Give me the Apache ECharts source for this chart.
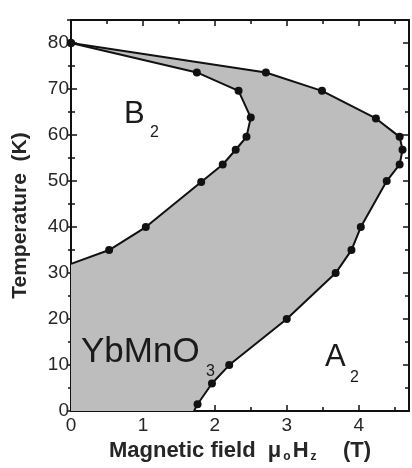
<!DOCTYPE html>
<html>
<head>
<meta charset="utf-8">
<script src="https://cdn.jsdelivr.net/npm/echarts@6/dist/echarts.min.js"></script>
<style>
  html, body { margin: 0; padding: 0; background: #fff; }
  #chart { width: 412px; height: 468px; }
</style>
</head>
<body>
<div id="chart"></div>
<script>
// Phase boundary of YbMnO3: measured transition points (field in T, temperature in K)
// Upper/right boundary (A2 side), from low temperature upward to the zero-field point
const outerField = [1.76, 1.96, 2.20, 3.00, 3.68, 3.90, 4.03, 4.39, 4.57, 4.61, 4.57, 4.24, 3.49, 2.71, 0.00];
const outerTemp  = [1.5,  6.0,  10.0, 20.0, 30.0, 35.0, 40.0, 50.0, 53.6, 56.8, 59.6, 63.6, 69.6, 73.6, 80.0];
// Inner boundary (B2 side), from the zero-field point downward
const innerField = [1.75, 2.33, 2.50, 2.44, 2.29, 2.11, 1.81, 1.04, 0.53];
const innerTemp  = [73.6, 69.6, 63.8, 59.6, 56.8, 53.6, 49.8, 40.0, 35.0];
// Where the boundaries meet the axes (no measured point there)
const outerAxisEnd = [1.71, 0];
const innerAxisEnd = [0, 32];

const xTicks = [0, 1, 2, 3, 4];
const yTicks = [0, 10, 20, 30, 40, 50, 60, 70, 80];

const FONT = 'Liberation Sans';
const INK = '#111';
const TXT = '#262626';

const outerLine = [outerAxisEnd].concat(outerField.map((x, i) => [x, outerTemp[i]]));
const innerLine = [[outerField[outerField.length - 1], outerTemp[outerTemp.length - 1]]]
  .concat(innerField.map((x, i) => [x, innerTemp[i]]))
  .concat([innerAxisEnd]);

// Shaded ordered phase: origin -> outer boundary -> inner boundary -> back down the T axis
const regionPoly = [[0, 0]].concat(outerLine).concat(innerLine.slice(1));

const chart = echarts.init(document.getElementById('chart'), null, { renderer: 'canvas' });

function frameAxis(extra) {
  return Object.assign({
    type: 'value',
    axisLine: { show: true, onZero: false, lineStyle: { color: INK, width: 2 } },
    axisTick: { show: true, inside: true, length: 6, lineStyle: { color: INK, width: 1.5 } },
    minorTick: { show: true, splitNumber: 2, length: 4, lineStyle: { color: INK, width: 1.5 } },
    splitLine: { show: false },
    minorSplitLine: { show: false },
    axisLabel: { show: false }
  }, extra);
}

// phase labels with subscripts
function phaseText(x, y, text, size) {
  return {
    type: 'text', x: x, y: y, z: 10,
    style: { text: text, fontFamily: FONT, fontSize: size, fill: '#1a1a1a', align: 'left', verticalAlign: 'middle' }
  };
}

chart.setOption({
  animation: false,
  backgroundColor: '#fff',
  grid: { left: 71, right: 3, top: 20, bottom: 50 },
  xAxis: [
    frameAxis({
      min: 0, max: 4.7, interval: 1, position: 'bottom',
      name: 'Magnetic field  {mu|μ}{sub|o}{mu|H}{sub|z}    (T)',
      nameLocation: 'middle', nameGap: 26,
      nameTextStyle: {
        fontFamily: FONT, fontSize: 22, fontWeight: 'bold', color: TXT,
        rich: {
          mu: { fontFamily: FONT, fontSize: 22, fontWeight: 'bold', color: TXT },
          sub: { fontFamily: FONT, fontSize: 12, fontWeight: 'bold', color: TXT, verticalAlign: 'bottom', padding: [12, 2, 0, 2] }
        }
      },
      axisLabel: {
        show: true, margin: 5, fontFamily: FONT, fontSize: 19, color: TXT,
        showMaxLabel: false,
        formatter: v => (xTicks.indexOf(v) >= 0 ? String(v) : '')
      }
    }),
    frameAxis({ min: 0, max: 4.7, interval: 1, position: 'top' })
  ],
  yAxis: [
    frameAxis({
      min: 0, max: 85, interval: 10, position: 'left',
      name: 'Temperature  (K)', nameLocation: 'middle', nameGap: 40, nameRotate: 90,
      nameTextStyle: { fontFamily: FONT, fontSize: 21, fontWeight: 'bold', color: TXT },
      axisLabel: {
        show: true, margin: 2, fontFamily: FONT, fontSize: 19, color: TXT,
        showMaxLabel: false,
        formatter: v => (yTicks.indexOf(v) >= 0 ? String(v) : '')
      }
    }),
    frameAxis({ min: 0, max: 85, interval: 10, position: 'right' }),
    // outer half of the left-hand ticks, so they cross the axis line
    frameAxis({
      min: 0, max: 85, interval: 10, position: 'left',
      axisLine: { show: false },
      axisTick: { show: true, inside: false, length: 4, lineStyle: { color: INK, width: 1.5 } },
      minorTick: { show: true, splitNumber: 2, length: 3, lineStyle: { color: INK, width: 1.5 } }
    })
  ],
  series: [
    {
      type: 'custom',
      z: 1,
      data: [0],
      renderItem: function (params, api) {
        const pts = regionPoly.map(p => api.coord(p));
        return { type: 'polygon', shape: { points: pts }, style: { fill: '#bdbdbd', stroke: 'none' } };
      }
    },
    {
      type: 'line', z: 3,
      data: outerLine.map((p, i) => (i === 0 ? { value: p, symbol: 'none' } : { value: p })),
      symbol: 'circle', symbolSize: 8,
      itemStyle: { color: INK },
      lineStyle: { color: INK, width: 2 }
    },
    {
      type: 'line', z: 3,
      data: innerLine.map((p, i) => (i === innerLine.length - 1 ? { value: p, symbol: 'none' } : { value: p })),
      symbol: 'circle', symbolSize: 8,
      itemStyle: { color: INK },
      lineStyle: { color: INK, width: 2 }
    }
  ],
  graphic: [
    phaseText(124, 114, 'B', 31),
    phaseText(150, 133, '2', 16),
    phaseText(81, 352, 'YbMnO', 35),
    phaseText(206, 372, '3', 16),
    phaseText(325, 357, 'A', 31),
    phaseText(350, 378, '2', 16)
  ]
});
</script>
</body>
</html>
